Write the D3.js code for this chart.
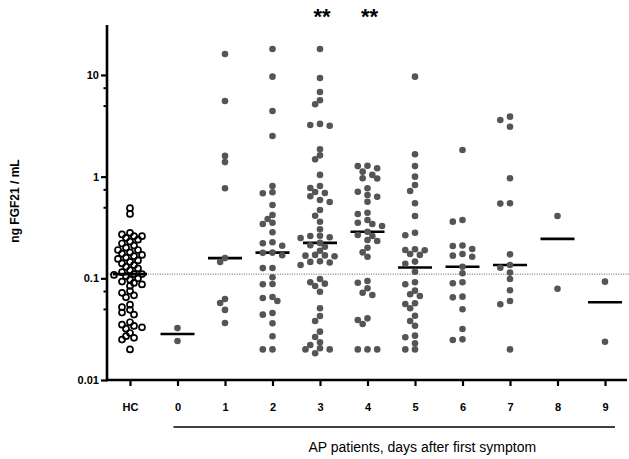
<!DOCTYPE html>
<html><head><meta charset="utf-8">
<script src="https://cdn.jsdelivr.net/npm/d3@7"></script>
<style>
body{margin:0;background:#fff;}
svg{display:block;font-family:"Liberation Sans",Arial,sans-serif;}
</style></head>
<body>
<svg id="c" width="629" height="459"></svg>
<script>
const categories = ["HC","0","1","2","3","4","5","6","7","8","9"];
const hc = [0.49,0.43,0.28,0.27,0.26,0.26,0.25,0.24,0.23,0.22,0.21,0.20,0.19,0.19,0.18,
  0.175,0.17,0.165,0.16,0.155,0.15,0.145,0.14,0.135,0.13,0.125,0.12,0.115,0.110,0.11,0.108,0.105,0.10,
  0.097,0.093,0.09,0.087,0.084,0.075,0.072,0.068,0.065,0.055,0.052,0.049,0.046,0.044,
  0.037,0.035,0.034,0.033,0.032,0.029,0.027,0.026,0.025,0.02];
const day0 = [0.0324,0.0242];
const day1 = [16.1,5.55,1.60,1.39,0.77,0.158,0.145,0.0627,0.0571,0.0489,0.0364];
const day2 = [18.0,9.62,4.42,2.51,0.809,0.702,0.686,0.526,0.420,0.383,0.3525,0.342,0.2836,0.2262,0.2212,0.2094,
  0.179,0.178,0.1684,0.1264,0.126,0.1024,0.0880,0.0874,0.0655,0.0640,0.0598,0.0456,0.0439,0.0361,0.0269,0.020,0.020];
const day3 = [18.0,9.34,6.80,5.64,5.15,3.30,3.22,3.17,1.86,1.62,1.48,1.04,0.809,0.774,0.707,0.691,0.641,0.590,0.563,
  0.470,0.413,0.3606,0.3036,0.2626,0.2608,0.2533,0.2493,0.223,0.2113,0.2046,0.187,0.170,0.168,0.167,0.165,0.147,0.145,
  0.143,0.1352,0.0986,0.0914,0.0886,0.0841,0.0739,0.0507,0.0426,0.0380,0.0299,0.0265,0.0235,0.0221,0.0205,0.020,0.020,0.0183];
const day4 = [1.28,1.27,1.21,1.12,1.04,0.965,0.96,0.768,0.711,0.660,0.635,0.567,0.442,0.429,0.375,0.3525,0.342,0.327,
  0.2875,0.2668,0.261,0.238,0.233,0.200,0.180,0.163,0.0941,0.0905,0.0798,0.0722,0.0686,0.0404,0.0389,0.0356,0.020,0.020,0.020];
const day5 = [9.62,1.66,1.27,1.0,0.828,0.723,0.547,0.410,0.281,0.265,0.193,0.190,0.189,0.1735,0.170,0.146,0.139,0.1162,
  0.0914,0.0874,0.0756,0.0697,0.067,0.0568,0.0559,0.0507,0.0429,0.038,0.0342,0.0273,0.0263,0.0230,0.020,0.020];
const day6 = [1.83,0.375,0.361,0.210,0.208,0.194,0.1735,0.167,0.163,0.130,0.112,0.0914,0.0894,0.066,0.065,0.0496,0.0317,0.0251,0.0247];
const day7 = [3.89,3.61,3.10,0.964,0.547,0.543,0.172,0.1352,0.127,0.1138,0.0986,0.0763,0.0598,0.0555,0.020];
const day8 = [0.41,0.079];
const day9 = [0.0927,0.0238];
const groups = [hc,day0,day1,day2,day3,day4,day5,day6,day7,day8,day9];
const yMajorTicks = [0.01,0.1,1,10];
const yMajorLabels = ["0.01","0.1","1","10"];
const yMinorTicks = [0.05,0.075,0.5,0.75,5,7.5];
const significant = ["3","4"];
const yTitle = "ng FGF21 / mL";
const xTitle = "AP patients, days after first symptom";

const svg = d3.select("#c");
const x = d3.scalePoint().domain(categories).range([130,605]);
const y = d3.scaleLog().domain([0.01,31]).range([380,25]);
const axisLeftX = 107, axisRightX = 627;

// reference line: median of HC
const hcMed = d3.median(hc);
svg.append("line").attr("x1",axisLeftX).attr("x2",629).attr("y1",y(hcMed)).attr("y2",y(hcMed))
  .attr("stroke","#777").attr("stroke-width",1).attr("stroke-dasharray","1.2,1.2");

// beeswarm
const r = 3.3;
groups.forEach((vals,gi)=>{
  const cx = x(categories[gi]);
  const minD = gi===0 ? 5.0 : 6.0;
  const step = gi===0 ? 4.0 : 4.85;
  const sorted = vals.slice().sort((a,b)=>b-a);
  const placed = [];
  sorted.forEach(v=>{
    const py = y(v);
    for(let k=0;k<40;k++){
      const off = k===0?0:(k%2===1? -Math.ceil(k/2) : Math.ceil(k/2))*step;
      const px = cx+off;
      if(placed.every(p=>Math.hypot(p[0]-px,p[1]-py)>=minD)){placed.push([px,py,v]);break;}
    }
  });
  const g = svg.append("g");
  const med = d3.median(vals);
  g.append("line").attr("x1",cx-17).attr("x2",cx+17).attr("y1",y(med)).attr("y2",y(med))
    .attr("stroke","#000").attr("stroke-width",2.6);
  g.selectAll("circle").data(placed).join("circle")
    .attr("cx",d=>d[0]).attr("cy",d=>d[1]).attr("r",gi===0?3.0:r)
    .attr("fill",gi===0?"none":"#555")
    .attr("stroke",gi===0?"#000":"none").attr("stroke-width",gi===0?1.7:0);
});

// y axis
const yAx = svg.append("g").attr("transform",`translate(${axisLeftX},0)`)
  .call(d3.axisLeft(y).tickValues(yMajorTicks).tickFormat((d,i)=>yMajorLabels[i]).tickSize(6).tickPadding(2));
yAx.select(".domain").remove();
yAx.selectAll(".tick line").attr("stroke","#000").attr("stroke-width",2.2);
yAx.selectAll(".tick text").attr("font-size",11).attr("font-weight","bold").attr("fill","#000")
  .attr("font-family","'Liberation Sans',Arial,sans-serif");
const yMin = svg.append("g").attr("transform",`translate(${axisLeftX},0)`)
  .call(d3.axisLeft(y).tickValues(yMinorTicks).tickFormat("").tickSize(3.5));
yMin.select(".domain").remove();
yMin.selectAll(".tick line").attr("stroke","#000").attr("stroke-width",2);
svg.append("line").attr("x1",axisLeftX).attr("x2",axisLeftX).attr("y1",y.range()[1]).attr("y2",y.range()[0]+1.2)
  .attr("stroke","#000").attr("stroke-width",2.6);

// x axis
const xAx = svg.append("g").attr("transform",`translate(0,${y.range()[0]})`)
  .call(d3.axisBottom(x).tickSize(6).tickPadding(17));
xAx.select(".domain").remove();
xAx.selectAll(".tick line").attr("stroke","#000").attr("stroke-width",2.2);
xAx.selectAll(".tick text").attr("font-size",11).attr("font-weight","bold").attr("fill","#000")
  .attr("font-family","'Liberation Sans',Arial,sans-serif");
svg.append("line").attr("x1",axisLeftX-1.3).attr("x2",axisRightX).attr("y1",y.range()[0]).attr("y2",y.range()[0])
  .attr("stroke","#000").attr("stroke-width",2.6);

// bracket line under AP groups
svg.append("line").attr("x1",x("0")-4).attr("x2",x("9")+10).attr("y1",427).attr("y2",427)
  .attr("stroke","#000").attr("stroke-width",1.6);
svg.append("text").attr("x",(x("0")+x("9"))/2+31).attr("y",452).attr("text-anchor","middle")
  .attr("font-size",14).attr("fill","#000").text(xTitle);

// y title
svg.append("text").attr("transform","translate(19,201) rotate(-90)").attr("text-anchor","middle")
  .attr("font-size",12).attr("font-weight","bold").attr("fill","#000").text(yTitle);

// significance stars
svg.selectAll("text.sig").data(significant).join("text").attr("class","sig")
  .attr("x",d=>x(d)+2).attr("y",24).attr("text-anchor","middle")
  .attr("font-size",22).attr("font-weight","bold").attr("fill","#000").text("**");
</script>
</body></html>
